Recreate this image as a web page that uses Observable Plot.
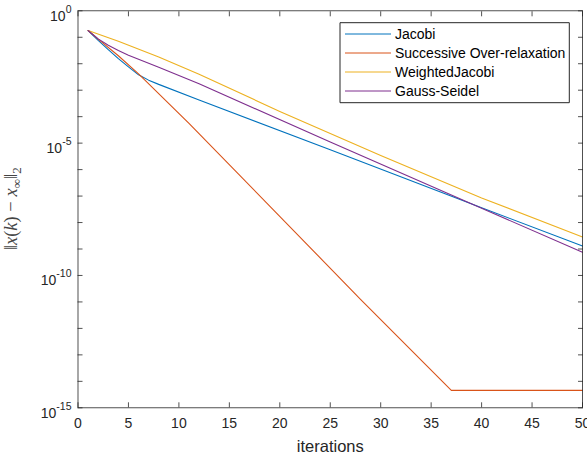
<!DOCTYPE html>
<html><head><meta charset="utf-8">
<script src="https://cdn.jsdelivr.net/npm/d3@7"></script>
<script src="https://cdn.jsdelivr.net/npm/@observablehq/plot@0.6"></script>
<style>
body{margin:0;background:#fff;}
#chart{position:relative;width:587px;height:458px;}
</style></head><body><div id="chart"></div>
<script>
// ---- data ----
const seriesNames = ["Jacobi", "Successive Over-relaxation", "WeightedJacobi", "Gauss-Seidel"];
const seriesColors = ["#0072BD", "#D95319", "#EDB120", "#7E2F8E"];

const iterJacobi = [1, 2, 3, 4, 5, 6, 7, 8, 12, 25, 40, 50];
const errJacobi  = [1.80e-1, 7.59e-2, 3.39e-2, 1.55e-2, 7.59e-3, 3.80e-3, 2.40e-3, 1.66e-3, 4.27e-4, 5.62e-6, 3.63e-8, 1.29e-9];

const iterSOR = [1, 2, 4, 6, 11, 28, 37, 50];
const errSOR  = [1.80e-1, 8.51e-2, 2.00e-2, 4.17e-3, 5.62e-5, 1.26e-11, 4.57e-15, 4.57e-15];

const iterWJ = [1, 4, 8, 12, 20, 30, 40, 50];
const errWJ  = [1.80e-1, 7.08e-2, 1.78e-2, 3.98e-3, 1.58e-4, 3.39e-6, 8.51e-8, 2.82e-9];

const iterGS = [1, 2, 3, 4, 5, 8, 12, 25, 40, 50];
const errGS  = [1.80e-1, 8.71e-2, 5.01e-2, 3.16e-2, 2.09e-2, 7.41e-3, 1.74e-3, 1.10e-5, 3.47e-8, 7.59e-10];

const xTicks = [0, 5, 10, 15, 20, 25, 30, 35, 40, 45, 50];
const yLabelTicks = [1e0, 1e-5, 1e-10, 1e-15];
const yDecadeTicks = [1e0,1e-1,1e-2,1e-3,1e-4,1e-5,1e-6,1e-7,1e-8,1e-9,1e-10,1e-11,1e-12,1e-13,1e-14,1e-15];
const xLabel = "iterations";

// ---- build table ----
const allIters = [iterJacobi, iterSOR, iterWJ, iterGS];
const allErrs = [errJacobi, errSOR, errWJ, errGS];
const rows = [];
seriesNames.forEach((name, s) => {
  allIters[s].forEach((it, i) => rows.push({series: name, iter: it, err: allErrs[s][i]}));
});

const axisColor = "#262626";
const sans = "'Liberation Sans', Arial, Helvetica, sans-serif";

const plot = Plot.plot({
  width: 587, height: 458,
  marginLeft: 77.5, marginRight: 5, marginTop: 10.3, marginBottom: 50.7,
  style: {background: "#fff", fontFamily: sans, fontSize: "14px", color: axisColor},
  x: {domain: [0, 50]},
  y: {type: "log", domain: [1e-15, 1]},
  color: {domain: seriesNames, range: seriesColors},
  marks: [
    Plot.line(rows, {x: "iter", y: "err", stroke: "series", z: "series", strokeWidth: 1.1}),
    Plot.frame({stroke: axisColor, strokeWidth: 0.8}),
    Plot.axisX({anchor: "bottom", ticks: xTicks, tickSize: -5, fill: "none", label: null, stroke: axisColor, strokeWidth: 0.8}),
    Plot.axisX({anchor: "top", ticks: xTicks, tickSize: -5, fill: "none", label: null, stroke: axisColor, strokeWidth: 0.8}),
    Plot.axisX({anchor: "bottom", ticks: xTicks, tickSize: 0, tickPadding: 10.7, label: null, fill: axisColor, tickFormat: d => String(d)}),
    Plot.axisY({anchor: "left", ticks: yDecadeTicks, tickSize: -5, fill: "none", label: null, stroke: axisColor, strokeWidth: 0.8}),
    Plot.axisY({anchor: "right", ticks: yDecadeTicks, tickSize: -5, fill: "none", label: null, stroke: axisColor, strokeWidth: 0.8}),
    Plot.axisY({anchor: "left", ticks: yLabelTicks, tickSize: 0, tickPadding: 6.5, label: null, fill: axisColor,
      tickFormat: d => String(Math.round(Math.log10(d)))}),
    Plot.text([xLabel], {frameAnchor: "bottom", lineAnchor: "bottom", dy: 43.7, fontSize: 16.5, fill: axisColor})
  ]
});

document.getElementById("chart").appendChild(plot);
const svg = d3.select(plot);

// superscript exponents on y tick labels
svg.selectAll('g[aria-label="y-axis tick label"] text').each(function() {
  const t = d3.select(this);
  const exp = t.text();
  t.text("10").attr("y", 9.7).attr("dy", null);
  t.append("tspan").attr("dy", -8).attr("font-size", 10.5).text(exp);
});

// y-axis label (math)
const yl = svg.append("text")
  .attr("transform", `translate(17,${(10.3 + 407.3) / 2}) rotate(-90)`)
  .attr("text-anchor", "middle")
  .attr("font-family", "'Liberation Serif', 'DejaVu Serif', serif")
  .attr("font-size", 18.5)
  .attr("fill", "#444");
const parts = [
  ["\u2016", null, 0], ["x", "italic", 0], ["(", null, 0], ["k", "italic", 0], [") \u2212 ", null, 0],
  ["x", "italic", 0], ["\u221E", null, 3.5, 13], ["\u2016", null, -3.5, 18.5], ["2", null, 3.5, 13]
];
parts.forEach(([s, style, dy, fs]) => {
  const sp = yl.append("tspan").text(s);
  if (style) sp.attr("font-style", style);
  if (dy) sp.attr("dy", dy);
  if (fs) sp.attr("font-size", fs);
});

// legend
const lg = svg.append("g").attr("font-family", sans).attr("font-size", 14).attr("text-anchor", "start");
lg.append("path").attr("d", "M340,22.7H569.3V102.7H340Z")
  .style("fill", "#fff").style("stroke", axisColor).style("stroke-width", "1px");
seriesNames.forEach((name, i) => {
  const y = 34 + i * 19;
  lg.append("line").attr("x1", 345).attr("x2", 391).attr("y1", y).attr("y2", y)
    .style("stroke", seriesColors[i]).style("stroke-width", "1px");
  lg.append("text").attr("x", 395).attr("y", y).attr("dy", "0.35em")
    .style("fill", "#000").style("text-anchor", "start").text(name);
});
</script></body></html>
